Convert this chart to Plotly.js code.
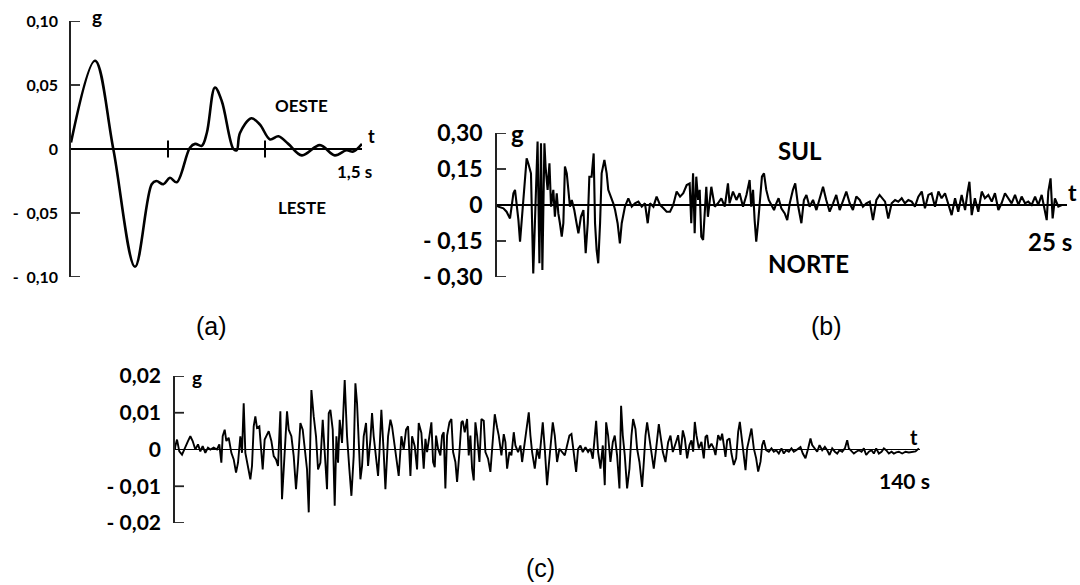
<!DOCTYPE html>
<html><head><meta charset="utf-8">
<script src="https://cdn.plot.ly/plotly-3.0.1.min.js"></script>
<style>html,body{margin:0;padding:0;background:#fff}#chart{width:1080px;height:585px}</style>
</head><body><div id="chart"></div>
<script>
// ---------- Panel (a): OESTE / LESTE, 0 - 1.5 s ----------
const aTime = [0,0.124,0.218,0.33,0.416,0.44,0.476,0.51,0.545,0.613,0.64,0.674,0.70,0.742,0.777,0.837,0.854,0.871,0.93,0.974,1.026,1.069,1.12,1.19,1.283,1.36,1.42,1.455,1.5];
const aAcc  = [0.005,0.069,0,-0.092,-0.0275,-0.025,-0.0275,-0.0225,-0.026,0.001,0.004,0.0025,0.0125,0.048,0.0375,0,-0.001,0.0125,0.024,0.019,0.0075,0.01,0.004,-0.005,0.003,-0.005,-0.001,-0.002,0.004];
const aTickTimes = [0.5, 1.0];
const aTickVals = [0.10, 0.05, 0, -0.05, -0.10];
const aTickText = ["0,10", "0,05", "0", "-\u00a0\u00a00,05", "-\u00a0\u00a00,10"];

// ---------- Panel (b): SUL / NORTE, 0 - 25 s ----------
const bTime = [0,0.06,0.28,0.42,0.57,0.72,0.79,0.86,0.94,1.01,1.08,1.2,1.3,1.37,1.49,1.59,1.67,1.78,1.86,1.93,1.99,2.08,2.13,2.22,2.30,2.37,2.47,2.54,2.62,2.69,2.76,2.84,2.91,2.98,3.06,3.13,3.2,3.28,3.39,3.49,3.57,3.68,3.79,3.89,3.98,4.05,4.15,4.24,4.30,4.37,4.44,4.52,4.59,4.71,4.81,4.88,5.0,5.10,5.18,5.29,5.39,5.47,5.61,5.76,5.91,6.05,6.2,6.35,6.49,6.61,6.71,6.86,7.0,7.15,7.3,7.44,7.59,7.73,7.88,8.03,8.17,8.32,
  8.45,8.52,8.6,8.67,8.74,8.82,8.89,8.96,9.04,9.11,9.18,9.25,9.33,9.4,9.55,9.69,9.84,9.99,10.13,10.2,10.35,10.5,10.64,10.79,10.94,11.08,11.15,11.23,11.3,11.37,11.45,11.52,11.62,11.71,11.81,11.92,12.03,12.15,12.25,12.35,12.47,12.62,12.73,12.84,12.98,13.08,13.2,13.35,13.46,13.57,13.71,13.86,14.01,14.15,14.3,14.44,14.59,14.74,14.88,15.03,15.18,15.32,15.47,15.61,15.76,15.91,16.05,16.2,16.35,16.49,16.64,16.78,
  17.02,17.16,17.31,17.46,17.6,17.75,17.89,18.04,18.19,18.33,18.48,18.63,18.77,18.92,19.06,19.21,19.36,19.5,19.65,19.8,19.94,20.09,20.23,20.38,20.53,20.63,20.72,20.82,20.96,21.11,21.26,21.4,21.55,21.7,21.84,21.99,22.13,22.28,22.43,22.57,22.72,22.87,23.01,23.16,23.3,23.45,23.6,23.74,23.89,24.04,24.11,24.18,24.28,24.37,24.47,24.62,24.77,25.0];
const bAcc = [0,-0.007,-0.014,-0.028,-0.056,0.049,0.063,0.007,-0.063,-0.153,-0.076,0.063,0.194,0.174,0.132,-0.285,-0.007,0.264,-0.243,0.257,-0.271,0.257,0.16,0.063,0.174,-0.007,0.063,-0.049,0.049,-0.035,-0.076,-0.132,-0.076,0.16,0.132,0.063,-0.007,0.021,-0.021,-0.076,-0.118,-0.049,-0.021,-0.201,-0.076,0.118,0.118,0.215,-0.076,-0.188,-0.243,-0.076,0.132,0.188,0.132,0.063,0.035,0.007,-0.021,-0.076,-0.160,-0.076,-0.007,0.028,-0.007,0.007,0.014,-0.007,0.007,-0.076,0.007,-0.007,0.035,0,-0.014,-0.028,-0.028,0,0.056,0.035,0.049,0.083,
  0.09,-0.076,0.132,-0.118,0.118,0.021,0.063,-0.132,-0.146,-0.021,0.076,-0.049,0.035,0.076,-0.007,0.007,0.028,-0.007,0.09,0.007,0.056,0.021,0.049,-0.007,0.042,0.104,-0.007,0.063,-0.063,-0.153,-0.076,0.007,0.118,0.132,0.063,0.021,0,-0.021,0.007,0.028,-0.014,-0.035,-0.063,0.007,0.063,0.09,0,-0.076,0.021,0.042,-0.007,0.021,-0.021,0.028,0.076,0.021,-0.028,0.007,0.042,-0.021,0.021,0.056,0.007,-0.021,0.035,0.021,-0.007,0.007,0.014,-0.063,0.021,0.042,
  0.014,-0.056,0.007,0.021,0.014,0.028,0.007,0.021,0.014,-0.007,0.035,0.056,-0.014,0.042,0.049,-0.007,0.056,0.028,0.049,0,-0.042,0.028,-0.028,0.042,-0.021,0.049,0.097,-0.042,0.028,-0.028,0.056,0.028,0.042,0.014,0.049,-0.021,0.007,0.049,0.028,0.007,0.042,0,0.035,0.007,0.014,0,0.035,0,0.042,-0.021,-0.063,0.056,0.111,-0.056,0.028,-0.007,0,0];
const bTickVals = [0.30, 0.15, 0, -0.15, -0.30];
const bTickText = ["0,30", "0,15", "0", "-\u00a00,15", "-\u00a00,30"];

// ---------- Panel (c): 0 - 140 s ----------
const cTime = [0,0.06,0.38,0.81,1.32,1.82,2.44,2.88,3.32,3.82,4.32,4.76,5.2,5.7,6.2,6.64,7.27,7.89,8.33,8.71,8.96,9.34,9.65,10.09,10.59,11.03,11.47,11.84,12.28,12.59,12.91,13.22,13.72,14.16,14.47,14.79,15.1,15.41,15.85,16.23,16.48,16.85,17.29,17.61,18.11,18.55,18.98,19.36,19.8,20.11,20.43,20.74,21.05,21.37,21.87,22.31,22.74,23.12,23.56,24.0,24.37,24.81,25.13,25.38,25.63,26.07,26.5,26.88,27.32,27.76,28.13,28.57,28.89,29.2,29.64,30.01,30.33,30.64,30.95,31.39,31.89,32.33,32.77,33.15,33.58,33.9,34.21,34.52,34.84,35.15,35.46,35.9,36.28,36.72,37.03,37.34,37.78,38.16,38.41,38.78,39.22,39.54,40.04,40.48,40.79,41.29,41.73,42.04,42.54,42.98,43.42,43.8,44.24,44.55,45.05,45.49,45.8,46.3,
  46.74,47.06,47.37,47.81,48.18,48.5,48.81,49.06,49.44,49.87,50.19,50.5,50.81,51.13,51.57,51.94,52.26,52.69,53.01,53.45,53.82,54.07,54.45,54.89,55.2,55.51,55.83,56.14,56.45,56.77,57.21,57.58,58.02,58.33,58.83,59.27,59.71,60.09,60.53,60.84,61.34,61.78,62.09,62.41,62.84,63.22,63.66,63.97,64.47,64.91,65.23,65.54,65.98,66.48,66.79,67.11,67.61,68.05,68.48,68.86,69.11,69.49,69.92,70.24,70.55,70.99,71.37,71.8,72.24,72.74,73.25,73.68,74.12,74.5,74.94,75.38,75.75,76.19,76.63,77.13,77.63,78.07,78.51,78.88,79.14,79.51,79.95,80.39,80.76,81.02,81.39,81.83,82.27,82.64,83.08,83.52,83.83,84.15,84.52,84.96,85.4,85.78,86.09,86.53,86.84,87.28,87.78,88.1,88.41,88.72,89.16,89.54,89.97,90.41,90.92,91.23,91.67,92.17,92.67,93.11,93.55,
  94.17,94.55,94.99,95.43,95.8,96.24,96.68,97.05,97.37,97.68,97.99,98.43,98.93,99.37,99.69,100.0,100.31,100.81,101.25,101.57,102.07,102.51,102.82,103.13,103.45,103.76,104.2,104.57,105.01,105.45,105.83,106.14,106.45,106.77,107.21,107.52,107.96,108.33,108.77,109.21,109.59,110.03,110.34,110.65,111.09,111.59,112.09,112.53,112.97,113.47,113.97,114.41,114.85,115.35,115.85,116.29,116.73,117.23,117.54,117.98,118.48,118.98,119.42,119.74,120.24,120.68,121.12,121.62,122.12,122.56,123.0,123.5,124.0,124.44,124.87,125.38,125.88,126.32,126.63,127.13,127.57,128.01,128.51,129.01,129.45,129.89,130.39,130.89,131.33,131.77,132.27,132.77,133.21,133.65,134.15,134.65,135.09,135.53,136.03,136.65,137.28,137.91,138.53,139.16,139.79];
const cAcc = [0,0.0009,0.0027,-0.0005,-0.0014,0.0005,0.0023,0.0036,0.0023,0,0.0014,-0.0005,0.0009,-0.0009,0.0005,0,0.0005,0,0.0014,-0.0036,0.0036,0.0054,0.0023,0.0032,-0.0009,-0.0027,-0.0063,-0.0036,0.0036,-0.0009,0.0126,-0.0009,-0.0045,-0.0081,-0.0045,0.0063,0.009,0.0059,0.0063,-0.0009,-0.0054,0.0027,0.0041,0.005,0.0023,-0.0018,-0.0027,-0.0045,0.0104,-0.0135,-0.0054,0.0018,0.0104,0.0054,0.0036,-0.0018,-0.0108,-0.0036,0.0072,0.0054,0.0009,-0.0054,-0.0171,-0.0009,0.0162,0.009,0.0036,-0.0054,-0.0036,0.0081,0,-0.0108,0.0099,0.0108,0.0054,-0.0153,0.0036,-0.0036,0.0081,0.0018,0.0189,0.0036,-0.0054,-0.0126,-0.0018,0.018,0.0126,0.0036,-0.0081,-0.0045,0.0036,0.0072,-0.0045,0.0027,0.0099,0.0036,-0.0027,-0.0072,-0.0009,0.0108,-0.0009,-0.0108,0.0036,0.0081,0.0063,0.0009,-0.0036,-0.0072,0.0036,0,0.0054,0.0063,-0.0072,0.0036,0.0009,-0.0054,0.0072,0.0045,
  -0.0052,0.0029,-0.0007,0.0042,0.0074,-0.0034,-0.0048,0.0038,0.0002,-0.0016,0.0038,0.0047,-0.0106,0.0038,0.0074,0.0083,-0.0007,-0.0034,-0.0088,-0.0007,0.0074,0.0078,0.0047,0.0083,-0.0016,0.0038,-0.0052,-0.0084,0.0074,0.0038,-0.0034,0.0083,0.0078,-0.0007,-0.0025,-0.0061,0.0038,0.0096,0.006,0.0038,-0.0016,0.0042,0.002,-0.0052,-0.0007,-0.0016,0.0047,0.0011,-0.0007,0.0011,-0.0034,0.0002,0.0047,0.0101,0.0038,-0.0007,-0.0052,0.0002,-0.0025,0.0047,0.0074,0.0002,-0.0097,-0.0043,0.0002,0.0074,0.0038,-0.0034,0.0002,-0.0007,-0.0016,0.0011,0.0038,0.0042,-0.0016,-0.0061,0.0002,0.0011,-0.0007,0.0006,-0.0007,0.0002,-0.0025,0.0038,0.0078,-0.0007,-0.0052,0.0011,-0.0097,0.0074,0.0038,-0.0034,0.002,0.0038,-0.0016,-0.0106,0.0119,0.0038,-0.0016,-0.0106,-0.0052,0.0038,0.0083,0.0056,0.0002,-0.0034,-0.0102,-0.0034,0.0038,0.0074,0.0029,-0.0007,-0.0052,0.0002,0.0069,0.0038,-0.0007,-0.0034,0.002,0.0038,-0.0007,
  0.0021,0.0039,-0.0015,0.0052,0.003,-0.0024,0.0012,0.0025,-0.0006,0.0075,0.0039,0.0003,0.0021,-0.0024,0.0034,0.0039,0.0003,0.0016,0.0003,-0.0015,0.0039,0.0025,0.0043,0.0003,-0.002,0.0025,0.003,-0.0011,-0.0042,-0.0024,0.0048,0.0075,0.0039,-0.0006,-0.0056,0.0003,0.003,0.0057,0.0003,-0.0024,-0.006,-0.0033,0.0012,0.0025,-0.0002,-0.0006,0.0003,-0.0006,-0.0002,-0.0011,0.0003,-0.0011,-0.0002,-0.0006,0.0003,-0.0006,-0.0002,0.0003,0.0007,-0.0011,-0.0024,0.0003,0.003,0.0012,0.0003,-0.0006,0.0012,-0.0002,0.0007,-0.0002,-0.0015,0.0003,-0.0006,-0.0011,-0.0002,-0.0006,0.0003,0.0025,0.0003,-0.0006,-0.0011,-0.0006,-0.0002,-0.0006,0.0003,-0.0015,-0.0006,-0.0002,-0.0011,0.0003,-0.0011,-0.0006,0.0003,-0.0002,-0.0011,-0.0006,-0.0011,-0.0008,-0.0006,-0.0011,-0.0006,-0.0008,-0.0006,-0.0005,0.0003];
const cTickVals = [0.02, 0.01, 0, -0.01, -0.02];
const cTickText = ["0,02", "0,01", "0", "-\u00a00,01", "-\u00a00,02"];

// ---------- helpers (pixel -> paper) ----------
const W = 1080, H = 585;
const px = x => x / W;
const py = y => 1 - y / H;
const FONT = "Lato, 'Open Sans', sans-serif";

function yAxis(domain, anchor, vals, texts, size, range) {
  return {
    domain: domain, anchor: anchor, range: range, fixedrange: true,
    tickmode: "array", tickvals: vals, ticktext: texts, showticklabels: true,
    ticks: "", showline: true, linecolor: "#222", linewidth: 1.8,
    showgrid: false, zeroline: true, zerolinecolor: "#000", zerolinewidth: 1.8,
    ticklabelstandoff: 8,
    tickfont: {family: FONT, size: size, color: "#000", weight: "bold"}
  };
}
function xAxis(domain, anchor, range) {
  return {
    domain: domain, anchor: anchor, range: range, fixedrange: true,
    showline: false, showgrid: false, zeroline: false, showticklabels: false, ticks: ""
  };
}

// inward tick marks on each y axis (length in px converted to x-domain fraction)
function tickShapes(xa, ya, vals, widthPx, lenPx) {
  return vals.filter(v => v !== 0).map(v => ({
    type: "line", xref: xa + " domain", yref: ya,
    x0: 0, x1: lenPx / widthPx, y0: v, y1: v,
    line: {color: "#222", width: 1.8}
  }));
}

const traces = [
  {x: aTime, y: aAcc, xaxis: "x", yaxis: "y", type: "scatter", mode: "lines",
   line: {color: "#000", width: 2.6, shape: "spline", smoothing: 1}, hoverinfo: "skip"},
  {x: aTickTimes, y: aTickTimes.map(() => 0), xaxis: "x", yaxis: "y", type: "scatter", mode: "markers",
   marker: {symbol: "line-ns", size: 12, line: {color: "#000", width: 2}}, hoverinfo: "skip"},
  {x: bTime, y: bAcc, xaxis: "x2", yaxis: "y2", type: "scatter", mode: "lines",
   line: {color: "#000", width: 2.1}, hoverinfo: "skip"},
  {x: cTime, y: cAcc, xaxis: "x3", yaxis: "y3", type: "scatter", mode: "lines",
   line: {color: "#000", width: 1.9}, hoverinfo: "skip"}
];

function ann(text, x, y, size, opts) {
  return Object.assign({text: text, x: px(x), y: py(y), xref: "paper", yref: "paper",
    showarrow: false, xanchor: "center", yanchor: "middle",
    font: {family: FONT, size: size, color: "#000", weight: "bold"}}, opts || {});
}
const PLAIN = {family: "'Liberation Sans', Arial, sans-serif", size: 25, color: "#000"};

const annotations = [
  ann("g", 97, 16, 19),
  ann("t", 371, 136, 18),
  ann("1,5 s", 354, 171, 17),
  ann("OESTE", 301, 105, 17),
  ann("LESTE", 302, 207, 17),
  ann("g", 517, 134, 24),
  ann("t", 1072, 192, 23),
  ann("25 s", 1050, 242, 24),
  ann("SUL", 800, 150, 24),
  ann("NORTE", 808, 263, 24),
  ann("g", 197, 377, 19),
  ann("t", 914, 437, 20),
  ann("140 s", 904, 480, 21),
  ann("(a)", 211, 326, 25, {font: PLAIN}),
  ann("(b)", 826, 326, 25, {font: PLAIN}),
  ann("(c)", 540, 568, 25, {font: PLAIN})
];

const shapes = [].concat(
  tickShapes("x", "y", aTickVals, 362 - 71, 9),
  tickShapes("x2", "y2", bTickVals, 1067 - 497, 9),
  tickShapes("x3", "y3", cTickVals, 920 - 175, 9)
);

const layout = {
  width: W, height: H, margin: {l: 0, r: 0, t: 0, b: 0},
  paper_bgcolor: "#fff", plot_bgcolor: "rgba(0,0,0,0)", showlegend: false,
  xaxis:  xAxis([px(71), px(362)], "y", [0, 1.5]),
  yaxis:  yAxis([py(277), py(21)], "x", aTickVals, aTickText, 16, [-0.10, 0.10]),
  xaxis2: xAxis([px(497), px(1067)], "y2", [0, 25]),
  yaxis2: yAxis([py(277), py(133)], "x2", bTickVals, bTickText, 23, [-0.30, 0.30]),
  xaxis3: xAxis([px(175), px(920)], "y3", [0, 140]),
  yaxis3: yAxis([py(523), py(376)], "x3", cTickVals, cTickText, 21, [-0.02, 0.02]),
  shapes: shapes,
  annotations: annotations
};

Plotly.newPlot("chart", traces, layout, {staticPlot: true, displayModeBar: false});
</script>
</body></html>
